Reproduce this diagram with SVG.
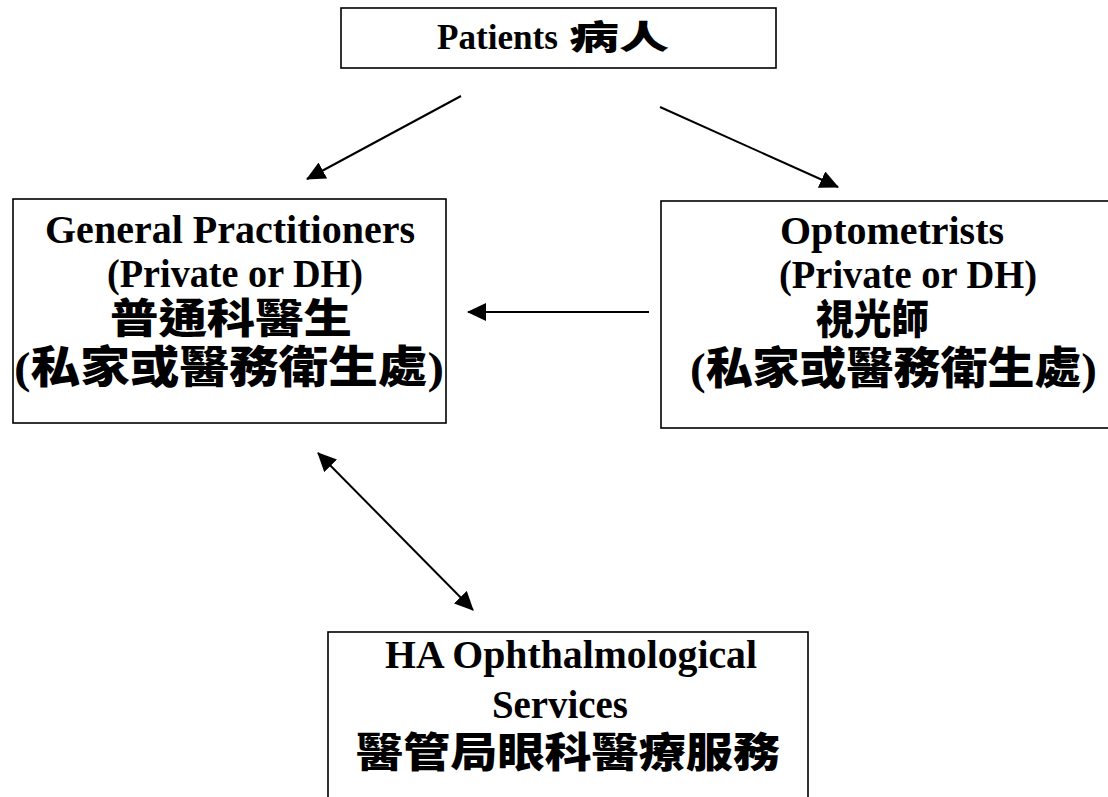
<svg xmlns="http://www.w3.org/2000/svg" width="1108" height="797" viewBox="0 0 1108 797">
<style>
.box{fill:#fff;stroke:#000;stroke-width:1.6}
.en{font-family:"Liberation Serif","Times New Roman",serif;font-weight:bold;fill:#000}
.zh{font-family:"Noto Sans CJK TC","Noto Sans CJK SC",sans-serif;font-weight:900;fill:#000}
.par{font-family:"Liberation Serif","Noto Sans CJK TC",serif;font-weight:900;fill:#000}
.con{stroke:#000;stroke-width:2;fill:none}
</style>
<defs>
<marker id="ah" markerUnits="userSpaceOnUse" markerWidth="20" markerHeight="18" refX="18" refY="9" orient="auto-start-reverse">
<path d="M0,0 L19,9 L0,18 Z" fill="#000"/>
</marker>
</defs>
<rect width="1108" height="797" fill="#fff"/>
<g id="patients">
<rect class="box" x="341" y="8" width="435" height="60"/>
<text class="en" x="437" y="49" font-size="36" textLength="121" lengthAdjust="spacingAndGlyphs">Patients</text>
<text class="zh" x="569" y="49" font-size="33" textLength="100" lengthAdjust="spacingAndGlyphs">病人</text>
</g>
<g id="gp">
<rect class="box" x="13" y="199" width="433" height="224"/>
<text class="en" x="45" y="243" font-size="41" textLength="370" lengthAdjust="spacingAndGlyphs">General Practitioners</text>
<text class="en" x="107" y="287" font-size="41" textLength="256" lengthAdjust="spacingAndGlyphs">(Private or DH)</text>
<text class="zh" x="110" y="333" font-size="41" textLength="242" lengthAdjust="spacingAndGlyphs">普通科醫生</text>
<text class="par" x="14" y="383" font-size="44" textLength="430" lengthAdjust="spacingAndGlyphs">(私家或醫務衛生處)</text>
</g>
<g id="optometrists">
<rect class="box" x="661" y="201" width="452" height="227"/>
<text class="en" x="780" y="244" font-size="41" textLength="224" lengthAdjust="spacingAndGlyphs">Optometrists</text>
<text class="en" x="779" y="288" font-size="41" textLength="258" lengthAdjust="spacingAndGlyphs">(Private or DH)</text>
<text class="zh" x="816" y="334" font-size="41" textLength="113" lengthAdjust="spacingAndGlyphs">視光師</text>
<text class="par" x="690" y="384" font-size="44" textLength="407" lengthAdjust="spacingAndGlyphs">(私家或醫務衛生處)</text>
</g>
<g id="ha">
<rect class="box" x="328" y="632" width="480" height="180"/>
<text class="en" x="385" y="668" font-size="39" textLength="372" lengthAdjust="spacingAndGlyphs">HA Ophthalmological</text>
<text class="en" x="492" y="718" font-size="39" textLength="136" lengthAdjust="spacingAndGlyphs">Services</text>
<text class="zh" x="356" y="767" font-size="41" textLength="424" lengthAdjust="spacingAndGlyphs">醫管局眼科醫療服務</text>
</g>
<g id="connectors">
<line class="con" x1="461" y1="96" x2="307" y2="179" marker-end="url(#ah)"/>
<line class="con" x1="660" y1="107" x2="838" y2="187" marker-end="url(#ah)"/>
<line class="con" x1="649" y1="312" x2="468" y2="312" marker-end="url(#ah)"/>
<line class="con" x1="318" y1="453" x2="473" y2="610" marker-start="url(#ah)" marker-end="url(#ah)"/>
</g>
</svg>
